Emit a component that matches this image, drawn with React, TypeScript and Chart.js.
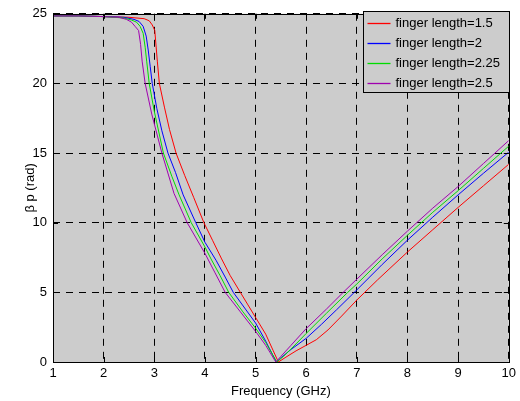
import React, { useEffect, useRef } from "react";
import { Chart, registerables } from "chart.js";
Chart.register(...registerables);

const seriesLabels = ["finger length=1.5", "finger length=2", "finger length=2.25", "finger length=2.5"];
const seriesColors = ["#ff0000", "#0000ff", "#00dd00", "#a000b0"];

const freqRed = [1.0, 1.5, 2.0, 2.5, 2.8, 2.9, 2.96, 3.01, 3.06, 3.10, 3.2, 3.3, 3.43, 3.6, 3.78, 3.98, 4.15, 4.33, 4.5, 4.7, 4.85, 5.0, 5.2, 5.35, 5.45, 5.6, 5.8, 6.0, 6.2, 6.43, 6.7, 7.0, 7.41, 8.0, 8.5, 9.0, 9.5, 10.0];
const valRed = [24.85, 24.85, 24.8, 24.75, 24.65, 24.5, 24.2, 23.8, 21.6, 20.0, 18.3, 16.7, 15.0, 13.4, 11.8, 10.0, 8.74, 7.4, 6.2, 5.0, 4.1, 3.2, 2.0, 0.8, 0.0, 0.35, 0.8, 1.2, 1.6, 2.3, 3.3, 4.45, 5.9, 7.9, 9.5, 11.1, 12.65, 14.2];

const freqBlue = [1.0, 1.5, 2.0, 2.4, 2.6, 2.7, 2.78, 2.84, 2.88, 2.92, 2.96, 3.05, 3.15, 3.27, 3.42, 3.57, 3.82, 4.0, 4.22, 4.4, 4.56, 4.8, 5.0, 5.2, 5.41, 5.5, 5.7, 6.0, 6.3, 6.6, 6.95, 7.5, 8.0, 8.5, 9.0, 9.5, 10.0];
const valBlue = [24.85, 24.85, 24.8, 24.75, 24.6, 24.45, 24.1, 23.4, 22.4, 21.2, 20.0, 18.2, 16.6, 15.0, 13.6, 12.0, 10.0, 8.6, 7.3, 6.1, 5.0, 3.8, 2.8, 1.5, 0.0, 0.3, 0.9, 1.7, 2.7, 3.75, 5.0, 7.0, 8.75, 10.4, 12.0, 13.55, 15.07];

const freqGreen = [1.0, 1.5, 2.0, 2.4, 2.55, 2.65, 2.72, 2.78, 2.82, 2.85, 2.90, 3.0, 3.18, 3.35, 3.49, 3.73, 4.0, 4.12, 4.3, 4.47, 4.75, 5.0, 5.2, 5.42, 5.55, 5.8, 6.0, 6.4, 6.82, 7.0, 7.5, 8.0, 8.5, 9.0, 9.5, 10.0];
const valGreen = [24.85, 24.85, 24.8, 24.7, 24.55, 24.4, 24.1, 23.6, 22.6, 21.6, 20.0, 18.0, 15.0, 13.3, 12.0, 10.0, 8.26, 7.4, 6.2, 5.0, 3.6, 2.43, 1.4, 0.0, 0.4, 1.3, 2.05, 3.5, 5.0, 5.6, 7.4, 9.1, 10.75, 12.3, 13.9, 15.5];

const freqPurple = [1.0, 1.5, 2.0, 2.3, 2.45, 2.55, 2.62, 2.69, 2.73, 2.76, 2.82, 2.95, 3.15, 3.39, 3.65, 4.0, 4.2, 4.4, 4.7, 5.0, 5.2, 5.4, 5.5, 5.7, 6.0, 6.4, 6.73, 7.0, 7.5, 8.0, 8.5, 9.0, 9.5, 10.0];
const valPurple = [24.85, 24.85, 24.8, 24.75, 24.6, 24.4, 24.1, 23.8, 22.8, 21.6, 20.0, 17.8, 15.0, 12.1, 10.0, 7.8, 6.4, 5.0, 3.6, 2.2, 1.2, 0.0, 0.4, 1.2, 2.4, 3.8, 5.0, 5.95, 7.7, 9.4, 11.05, 12.6, 14.25, 15.9];

const xTicks = [1, 2, 3, 4, 5, 6, 7, 8, 9, 10];
const yTicks = [0, 5, 10, 15, 20, 25];

const xTitle = "Frequency (GHz)";
const yTitle = "β p (rad)";

const FONT = "'Liberation Sans', Arial, sans-serif";

const seriesFreqs = [freqRed, freqBlue, freqGreen, freqPurple];
const seriesVals = [valRed, valBlue, valGreen, valPurple];

const bgPlugin = {
  id: "bgPlugin",
  beforeDraw(chart: any) {
    const { ctx, chartArea: a } = chart;
    ctx.save();
    ctx.fillStyle = "#ffffff";
    ctx.fillRect(0, 0, chart.width, chart.height);
    ctx.fillStyle = "#cccccc";
    ctx.fillRect(a.left, a.top, a.right - a.left, a.bottom - a.top);
    ctx.restore();
  },
};

const framePlugin = {
  id: "framePlugin",
  afterDraw(chart: any) {
    const { ctx, chartArea: a, scales } = chart;
    ctx.save();
    ctx.strokeStyle = "#000";
    ctx.lineWidth = 1;
    ctx.setLineDash([]);
    const tl = 5;
    ctx.beginPath();
    for (const v of xTicks) {
      const x = Math.round(scales.x.getPixelForValue(v)) + 0.5;
      ctx.moveTo(x, a.bottom);
      ctx.lineTo(x, a.bottom - tl);
      ctx.moveTo(x, a.top);
      ctx.lineTo(x, a.top + tl);
    }
    for (const v of yTicks) {
      const y = Math.round(scales.y.getPixelForValue(v)) + 0.5;
      ctx.moveTo(a.left, y);
      ctx.lineTo(a.left + tl, y);
      ctx.moveTo(a.right, y);
      ctx.lineTo(a.right - tl, y);
    }
    ctx.stroke();
    ctx.strokeRect(Math.round(a.left) + 0.5, Math.round(a.top) + 0.5, Math.round(a.right - a.left), Math.round(a.bottom - a.top));

    // legend box
    const bw = 146;
    const bh = 81;
    const bx = Math.round(a.right) - bw + 0.5;
    const by = Math.round(a.top) - 3 + 0.5;
    ctx.fillStyle = "#cccccc";
    ctx.fillRect(bx, by, bw, bh);
    ctx.strokeStyle = "#000000";
    ctx.strokeRect(bx, by, bw, bh);
    ctx.font = `13px ${FONT}`;
    ctx.textBaseline = "middle";
    ctx.textAlign = "left";
    for (let i = 0; i < seriesLabels.length; i++) {
      const cy = Math.round(by + 11 + i * 20) + 0.5;
      ctx.save();
      ctx.strokeStyle = seriesColors[i];
      ctx.lineWidth = 1.3;
      ctx.beginPath();
      ctx.moveTo(bx + 4, cy);
      ctx.lineTo(bx + 27, cy);
      ctx.stroke();
      ctx.restore();
      ctx.fillStyle = "#000";
      ctx.fillText(seriesLabels[i], bx + 32, cy);
    }
    ctx.restore();
  },
};

export default function App() {
  const ref = useRef<HTMLCanvasElement>(null);
  useEffect(() => {
    if (!ref.current) return;
    Chart.defaults.font.family = FONT;
    Chart.defaults.font.size = 13;
    Chart.defaults.color = "#000";
    const datasets = seriesLabels.map((label, i) => ({
      label,
      data: seriesFreqs[i].map((f, j) => ({ x: f, y: seriesVals[i][j] })),
      borderColor: seriesColors[i],
      backgroundColor: seriesColors[i],
      borderWidth: 1,
      pointRadius: 0,
      tension: 0,
      fill: false,
      order: 4 - i,
    }));
    const chart = new Chart(ref.current, {
      type: "line",
      data: { datasets },
      options: {
        responsive: false,
        animation: false,
        layout: { padding: { left: 0, right: 8, top: 13, bottom: 0 } },
        plugins: { legend: { display: false }, tooltip: { enabled: false } },
        scales: {
          x: {
            type: "linear",
            min: 1,
            max: 10,
            afterFit: (s: any) => { s.height = 39; },
            afterBuildTicks: (s: any) => { s.ticks = xTicks.map((v) => ({ value: v })); },
            ticks: { padding: 4, color: "#000", font: { size: 13 } },
            grid: { color: "#000", lineWidth: 1, drawTicks: false },
            border: { display: false, dash: [7, 6] },
            title: { display: true, text: xTitle, color: "#000", font: { size: 13 }, padding: { top: 0, bottom: 2 } },
          },
          y: {
            type: "linear",
            min: 0,
            max: 25,
            afterFit: (s: any) => { s.width = 53; },
            afterBuildTicks: (s: any) => { s.ticks = yTicks.map((v) => ({ value: v })); },
            ticks: { padding: 6, color: "#000", font: { size: 13 } },
            grid: { color: "#000", lineWidth: 1, drawTicks: false },
            border: { display: false, dash: [7, 6] },
            title: { display: true, text: yTitle, color: "#000", font: { size: 13 }, padding: { top: 23, bottom: 0 } },
          },
        },
      },
      plugins: [bgPlugin, framePlugin],
    } as any);
    return () => chart.destroy();
  }, []);
  return (
    <div style={{ position: "absolute", left: 0, top: 0, width: 520, height: 401, background: "#fff" }}>
      <canvas ref={ref} width={520} height={401} style={{ display: "block" }} />
    </div>
  );
}
